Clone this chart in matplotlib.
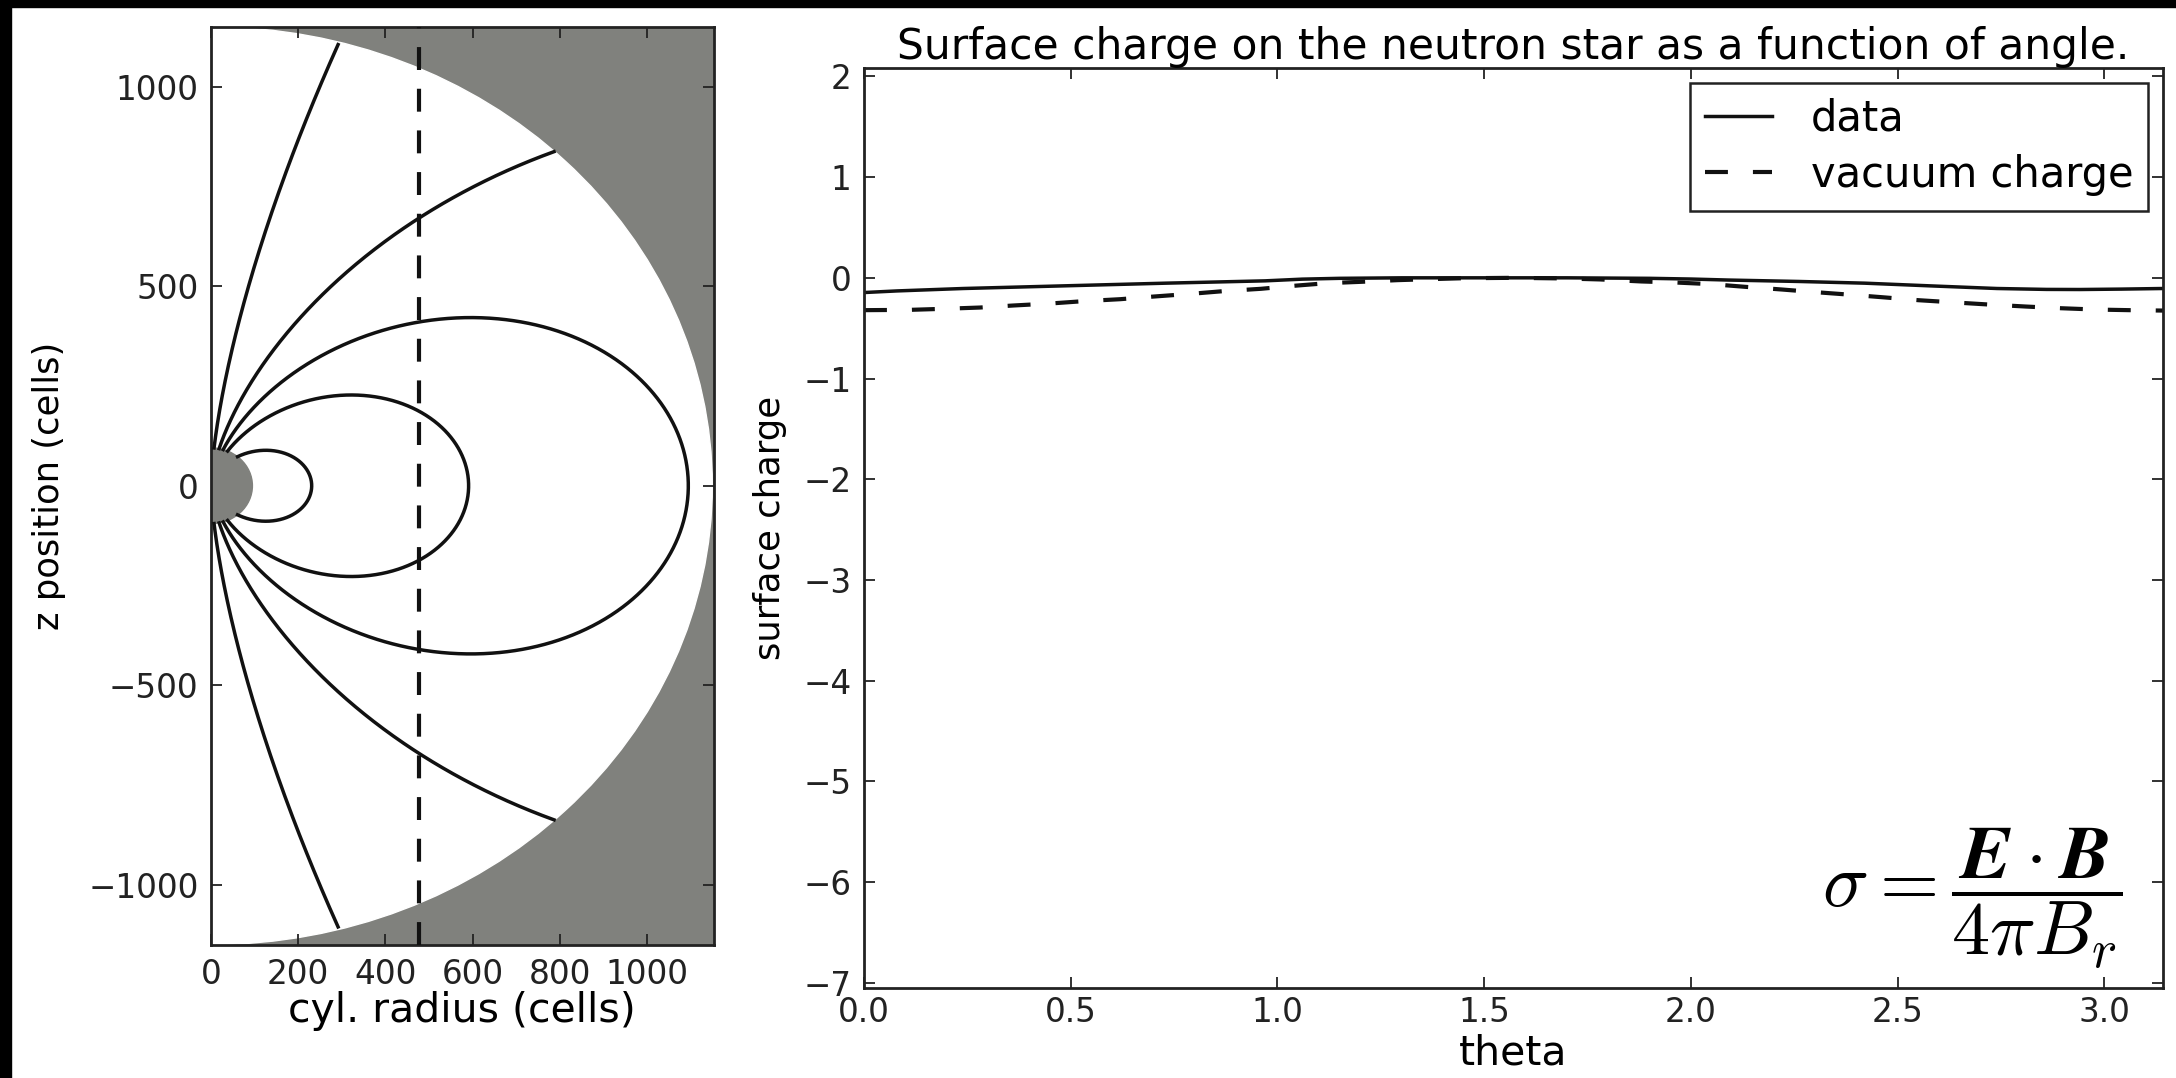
import numpy as np
import matplotlib
matplotlib.use("Agg")
import matplotlib.pyplot as plt
from matplotlib.patches import Wedge, Rectangle

plt.rcParams['font.family'] = ['DejaVu Sans']
plt.rcParams['mathtext.fontset'] = 'cm'

# --- left panel: field lines around the star ---
R_BOX = 1150        # radius of the simulation sphere (cells)
R_STAR = 95         # star radius (cells)
FIELD_L = [231, 591, 1095, 2450, 17590]   # equatorial extent of each dipole line
CUT_X = 477         # radius of the vertical cut

# --- right panel: surface charge vs theta ---
theta_data = [0.0, 0.08, 0.24, 0.48, 0.73, 0.97, 1.06, 1.15, 1.30, 1.50, 1.70,
              1.90, 2.00, 2.09, 2.26, 2.42, 2.58, 2.74, 2.86, 2.94, 3.04, 3.14159]
charge_data = [-0.146, -0.13, -0.106, -0.08, -0.053, -0.03, -0.013, -0.005, 0.0, 0.0, 0.0,
               -0.005, -0.012, -0.022, -0.036, -0.053, -0.08, -0.106, -0.115, -0.116, -0.112, -0.106]

theta_vac = [0.0, 0.11, 0.19, 0.28, 0.36, 0.45, 0.53, 0.62, 0.70, 0.79, 0.87, 0.96,
             1.04, 1.12, 1.20, 1.29, 1.37, 1.45, 1.57, 1.69, 1.78, 1.88, 1.96, 2.05,
             2.13, 2.22, 2.30, 2.38, 2.47, 2.55, 2.64, 2.72, 2.81, 2.89, 2.98, 3.06, 3.14159]
charge_vac = [-0.321, -0.318, -0.308, -0.295, -0.275, -0.255, -0.232, -0.212, -0.186, -0.159,
              -0.132, -0.109, -0.079, -0.053, -0.040, -0.023, -0.013, -0.004, 0.0, -0.006,
              -0.016, -0.036, -0.046, -0.063, -0.089, -0.116, -0.142, -0.166, -0.195, -0.222,
              -0.245, -0.265, -0.285, -0.301, -0.315, -0.321, -0.325]

GREY = '#80817d'
INK = '#111111'
W, H = 2176, 1078
TICK_FS = 23.5
LABEL_FS = 29.5
YLABEL_FS = 25.5

fig = plt.figure(figsize=(W / 100, H / 100), dpi=100)
fig.patch.set_facecolor('white')

# dark frame edges
fig.patches.append(Rectangle((0, 1 - 7 / H), 1, 7 / H, transform=fig.transFigure,
                             color='black', zorder=0))
fig.patches.append(Rectangle((0, 0), 11 / W, 1, transform=fig.transFigure,
                             color='black', zorder=0))


def style_axes(ax, xpad, ypad):
    for s in ax.spines.values():
        s.set_linewidth(2.0)
        s.set_color('#222222')
    ax.tick_params(direction='in', length=8, width=1.3, top=True, right=True,
                   labelsize=TICK_FS, colors='#222222')
    ax.tick_params(axis='x', pad=xpad)
    ax.tick_params(axis='y', pad=ypad)


# left panel
ax1 = fig.add_axes([211 / W, 1 - 944.6 / H, (713.6 - 211) / W, (944.6 - 26.9) / H])
ax1.set_facecolor(GREY)
ax1.add_patch(Wedge((0, 0), R_BOX, -90, 90, color='white', zorder=1))
ax1.add_patch(Wedge((0, 0), R_STAR, -90, 90, color=GREY, zorder=2))

for L in FIELD_L:
    th0 = np.arcsin(np.sqrt(R_STAR / L))
    th = np.linspace(th0, np.pi - th0, 2000)
    r = L * np.sin(th) ** 2
    x = r * np.sin(th)
    z = r * np.cos(th)
    x[r > R_BOX] = np.nan
    ax1.plot(x, z, color=INK, lw=2.5, zorder=3)

ax1.axvline(CUT_X, color=INK, lw=3, ls=(0, (5.5, 4.5)), zorder=4)
ax1.set_xlim(0, 1153)
ax1.set_ylim(-1150, 1150)
ax1.set_xticks([0, 200, 400, 600, 800, 1000])
ax1.set_yticks([-1000, -500, 0, 500, 1000])
style_axes(ax1, 10, 9)
ax1.set_xlabel('cyl. radius (cells)', fontsize=LABEL_FS, labelpad=0)
ax1.set_ylabel('z position (cells)', fontsize=YLABEL_FS, labelpad=16)

# right panel
ax2 = fig.add_axes([864 / W, 1 - 988 / H, (2163 - 864) / W, (988 - 68.3) / H])
ax2.plot(theta_data, charge_data, color=INK, lw=2.5, label='data')
ax2.plot(theta_vac, charge_vac, color=INK, lw=3, ls=(0, (5.5, 6)), label='vacuum charge')
ax2.set_xlim(0, np.pi)
ax2.set_ylim(-7.05, 2.08)
ax2.set_xticks([0.0, 0.5, 1.0, 1.5, 2.0, 2.5, 3.0])
ax2.set_xticklabels(['0.0', '0.5', '1.0', '1.5', '2.0', '2.5', '3.0'])
ax2.set_yticks(range(-7, 3))
style_axes(ax2, 6, 9)
ax2.set_xlabel('theta', fontsize=LABEL_FS, labelpad=3)
ax2.set_ylabel('surface charge', fontsize=YLABEL_FS, labelpad=12)
ax2.set_title('Surface charge on the neutron star as a function of angle.',
              fontsize=30.5, pad=7)

leg = ax2.legend(loc='upper right', fontsize=30, fancybox=False, framealpha=1,
                 edgecolor='#222222', handlelength=1.6, borderaxespad=0.35,
                 borderpad=0.35, labelspacing=0.35, handletextpad=0.95)
leg.get_frame().set_linewidth(1.8)

ax2.text(0.969, 0.0973, r'$\sigma = \dfrac{\mathbfit{E}\cdot\mathbfit{B}}{4\pi B_r}$',
         transform=ax2.transAxes, ha='right', va='center', fontsize=55)

fig.savefig('out.png', dpi=100, facecolor=fig.get_facecolor())
